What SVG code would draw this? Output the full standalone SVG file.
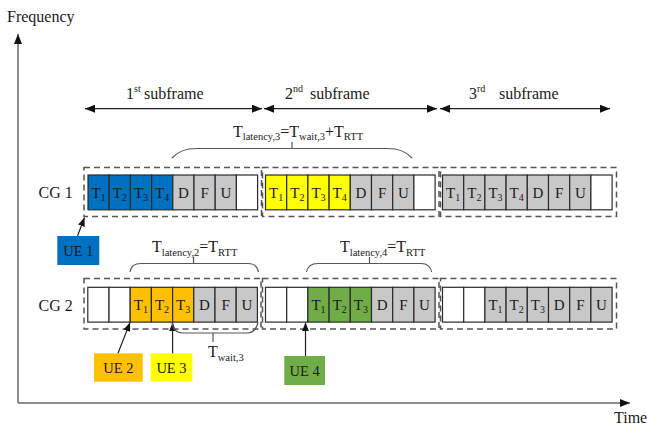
<svg xmlns="http://www.w3.org/2000/svg" width="647" height="428" viewBox="0 0 647 428" font-family="'Liberation Serif', 'Times New Roman', 'DejaVu Serif', serif">
<defs>
<style>
text{font-family:'Liberation Serif','Times New Roman','DejaVu Serif',serif;fill:#1a1a1a}
.lbl{font-size:16px}
.cell{stroke:#2b2b2b;stroke-width:1.2}
.blue{fill:#0070C0}.yel{fill:#FFFF00}.org{fill:#FFC000}.grn{fill:#70AD47}.gry{fill:#C8C8C8}.wht{fill:#FFFFFF}
.ct{font-size:15px;text-anchor:middle}
.sub{font-size:10px}
.sb{font-size:10.5px}
.sup{font-size:10px}
.dash{fill:none;stroke:#555;stroke-width:1.5;stroke-dasharray:6 4}
.brace{fill:none;stroke:#555;stroke-width:1.2}
.axis{fill:none;stroke:#666;stroke-width:1.5}
.ln{fill:none;stroke:#222;stroke-width:1.2}
.ue{font-size:14.5px;text-anchor:middle}
</style>
<marker id="ah" viewBox="0 0 10 8" refX="10" refY="4" markerWidth="10" markerHeight="8" markerUnits="userSpaceOnUse" orient="auto-start-reverse">
<path d="M0,0 L10,4 L0,8 z" fill="#111"/>
</marker>
<marker id="ahs" viewBox="0 0 10 8" refX="10" refY="4" markerWidth="9" markerHeight="7" markerUnits="userSpaceOnUse" orient="auto">
<path d="M0,0 L10,4 L0,8 z" fill="#111"/>
</marker>
</defs>
<rect width="647" height="428" fill="#fff"/>

<g id="axes">
<path class="axis" d="M18,403 L18,34" marker-end="url(#ah)"/>
<path class="axis" d="M18,403 L630,403" marker-end="url(#ah)"/>
<text class="lbl" x="7" y="22">Frequency</text>
<text class="lbl" x="614" y="423">Time</text>
</g>

<g id="subframe-labels">
<path class="ln" d="M85,108.7 L262,108.7" marker-start="url(#ah)" marker-end="url(#ah)"/>
<path class="ln" d="M264,108.7 L437,108.7" marker-start="url(#ah)" marker-end="url(#ah)"/>
<path class="ln" d="M440,108.7 L610,108.7" marker-start="url(#ah)" marker-end="url(#ah)"/>
<text class="lbl" x="126" y="98.5">1<tspan class="sup" dy="-7">st</tspan><tspan x="144" dy="7">subframe</tspan></text>
<text class="lbl" x="285" y="98.5">2<tspan class="sup" dy="-7">nd</tspan><tspan x="310" dy="7">subframe</tspan></text>
<text class="lbl" x="469" y="98.5">3<tspan class="sup" dy="-7">rd</tspan><tspan x="499" dy="7">subframe</tspan></text>
</g>

<g id="cg1-label"><text class="lbl" x="38.5" y="197.5">CG 1</text></g>
<g id="cg2-label"><text class="lbl" x="38.5" y="310.5">CG 2</text></g>

<g id="cg1-sf1">
<rect class="dash" x="84" y="167.5" width="177.5" height="49"/>
<rect class="cell blue" x="88" y="175" width="21.2" height="34.8"/>
<rect class="cell blue" x="109.2" y="175" width="21.2" height="34.8"/>
<rect class="cell blue" x="130.4" y="175" width="21.2" height="34.8"/>
<rect class="cell blue" x="151.6" y="175" width="21.2" height="34.8"/>
<rect class="cell gry" x="172.8" y="175" width="21.2" height="34.8"/>
<rect class="cell gry" x="194" y="175" width="21.2" height="34.8"/>
<rect class="cell gry" x="215.2" y="175" width="21.2" height="34.8"/>
<rect class="cell wht" x="236.4" y="175" width="21.2" height="34.8"/>
<text class="ct" x="98.6" y="197.5">T<tspan class="sub" dy="3">1</tspan></text>
<text class="ct" x="119.8" y="197.5">T<tspan class="sub" dy="3">2</tspan></text>
<text class="ct" x="141" y="197.5">T<tspan class="sub" dy="3">3</tspan></text>
<text class="ct" x="162.2" y="197.5">T<tspan class="sub" dy="3">4</tspan></text>
<text class="ct" x="183.4" y="197.5">D</text>
<text class="ct" x="204.6" y="197.5">F</text>
<text class="ct" x="225.8" y="197.5">U</text>
</g>

<g id="cg1-sf2">
<rect class="dash" x="262.5" y="167.5" width="176.5" height="49"/>
<rect class="cell yel" x="265.5" y="175" width="21.2" height="34.8"/>
<rect class="cell yel" x="286.7" y="175" width="21.2" height="34.8"/>
<rect class="cell yel" x="307.9" y="175" width="21.2" height="34.8"/>
<rect class="cell yel" x="329.1" y="175" width="21.2" height="34.8"/>
<rect class="cell gry" x="350.3" y="175" width="21.2" height="34.8"/>
<rect class="cell gry" x="371.5" y="175" width="21.2" height="34.8"/>
<rect class="cell gry" x="392.7" y="175" width="21.2" height="34.8"/>
<rect class="cell wht" x="413.9" y="175" width="21.2" height="34.8"/>
<text class="ct" x="276.1" y="197.5">T<tspan class="sub" dy="3">1</tspan></text>
<text class="ct" x="297.3" y="197.5">T<tspan class="sub" dy="3">2</tspan></text>
<text class="ct" x="318.5" y="197.5">T<tspan class="sub" dy="3">3</tspan></text>
<text class="ct" x="339.7" y="197.5">T<tspan class="sub" dy="3">4</tspan></text>
<text class="ct" x="360.9" y="197.5">D</text>
<text class="ct" x="382.1" y="197.5">F</text>
<text class="ct" x="403.3" y="197.5">U</text>
</g>

<g id="cg1-sf3">
<rect class="dash" x="440.5" y="167.5" width="176" height="49"/>
<rect class="cell gry" x="442.5" y="175" width="21.2" height="34.8"/>
<rect class="cell gry" x="463.7" y="175" width="21.2" height="34.8"/>
<rect class="cell gry" x="484.9" y="175" width="21.2" height="34.8"/>
<rect class="cell gry" x="506.1" y="175" width="21.2" height="34.8"/>
<rect class="cell gry" x="527.3" y="175" width="21.2" height="34.8"/>
<rect class="cell gry" x="548.5" y="175" width="21.2" height="34.8"/>
<rect class="cell gry" x="569.7" y="175" width="21.2" height="34.8"/>
<rect class="cell wht" x="590.9" y="175" width="21.2" height="34.8"/>
<text class="ct" x="453.1" y="197.5">T<tspan class="sub" dy="3">1</tspan></text>
<text class="ct" x="474.3" y="197.5">T<tspan class="sub" dy="3">2</tspan></text>
<text class="ct" x="495.5" y="197.5">T<tspan class="sub" dy="3">3</tspan></text>
<text class="ct" x="516.7" y="197.5">T<tspan class="sub" dy="3">4</tspan></text>
<text class="ct" x="537.9" y="197.5">D</text>
<text class="ct" x="559.1" y="197.5">F</text>
<text class="ct" x="580.3" y="197.5">U</text>
</g>

<g id="cg2-sf1">
<rect class="dash" x="84" y="278.5" width="177" height="50.5"/>
<rect class="cell wht" x="87.8" y="287.3" width="21.2" height="34.8"/>
<rect class="cell wht" x="109" y="287.3" width="21.2" height="34.8"/>
<rect class="cell org" x="130.2" y="287.3" width="21.2" height="34.8"/>
<rect class="cell org" x="151.4" y="287.3" width="21.2" height="34.8"/>
<rect class="cell org" x="172.6" y="287.3" width="21.2" height="34.8"/>
<rect class="cell gry" x="193.8" y="287.3" width="21.2" height="34.8"/>
<rect class="cell gry" x="215" y="287.3" width="21.2" height="34.8"/>
<rect class="cell gry" x="236.2" y="287.3" width="21.2" height="34.8"/>
<text class="ct" x="140.8" y="310">T<tspan class="sub" dy="3">1</tspan></text>
<text class="ct" x="162" y="310">T<tspan class="sub" dy="3">2</tspan></text>
<text class="ct" x="183.2" y="310">T<tspan class="sub" dy="3">3</tspan></text>
<text class="ct" x="204.4" y="310">D</text>
<text class="ct" x="225.6" y="310">F</text>
<text class="ct" x="246.8" y="310">U</text>
</g>

<g id="cg2-sf2">
<rect class="dash" x="262.5" y="278.5" width="176.5" height="50.5"/>
<rect class="cell wht" x="265.5" y="287.3" width="21.2" height="34.8"/>
<rect class="cell wht" x="286.7" y="287.3" width="21.2" height="34.8"/>
<rect class="cell grn" x="307.9" y="287.3" width="21.2" height="34.8"/>
<rect class="cell grn" x="329.1" y="287.3" width="21.2" height="34.8"/>
<rect class="cell grn" x="350.3" y="287.3" width="21.2" height="34.8"/>
<rect class="cell gry" x="371.5" y="287.3" width="21.2" height="34.8"/>
<rect class="cell gry" x="392.7" y="287.3" width="21.2" height="34.8"/>
<rect class="cell gry" x="413.9" y="287.3" width="21.2" height="34.8"/>
<text class="ct" x="318.5" y="310">T<tspan class="sub" dy="3">1</tspan></text>
<text class="ct" x="339.7" y="310">T<tspan class="sub" dy="3">2</tspan></text>
<text class="ct" x="360.9" y="310">T<tspan class="sub" dy="3">3</tspan></text>
<text class="ct" x="382.1" y="310">D</text>
<text class="ct" x="403.3" y="310">F</text>
<text class="ct" x="424.5" y="310">U</text>
</g>

<g id="cg2-sf3">
<rect class="dash" x="440.5" y="278.5" width="176" height="50.5"/>
<rect class="cell wht" x="442.5" y="287.3" width="21.2" height="34.8"/>
<rect class="cell wht" x="463.7" y="287.3" width="21.2" height="34.8"/>
<rect class="cell gry" x="484.9" y="287.3" width="21.2" height="34.8"/>
<rect class="cell gry" x="506.1" y="287.3" width="21.2" height="34.8"/>
<rect class="cell gry" x="527.3" y="287.3" width="21.2" height="34.8"/>
<rect class="cell gry" x="548.5" y="287.3" width="21.2" height="34.8"/>
<rect class="cell gry" x="569.7" y="287.3" width="21.2" height="34.8"/>
<rect class="cell gry" x="590.9" y="287.3" width="21.2" height="34.8"/>
<text class="ct" x="495.5" y="310">T<tspan class="sub" dy="3">1</tspan></text>
<text class="ct" x="516.7" y="310">T<tspan class="sub" dy="3">2</tspan></text>
<text class="ct" x="537.9" y="310">T<tspan class="sub" dy="3">3</tspan></text>
<text class="ct" x="559.1" y="310">D</text>
<text class="ct" x="580.3" y="310">F</text>
<text class="ct" x="601.5" y="310">U</text>
</g>

<g id="ue1"><rect class="blue" x="57.3" y="236" width="42" height="29"/><text class="ue" x="78.3" y="255.5">UE 1</text></g>
<g id="ue2"><rect class="org" x="94" y="353.3" width="48.7" height="28.4"/><text class="ue" x="118.4" y="372.5">UE 2</text></g>
<g id="ue3"><rect class="yel" x="150.7" y="353.3" width="41.6" height="28.4"/><text class="ue" x="171.5" y="372.5">UE 3</text></g>
<g id="ue4"><rect class="grn" x="284.3" y="356" width="40.7" height="29"/><text class="ue" x="304.7" y="375.5">UE 4</text></g>

<g id="connectors">
<path class="ln" d="M77.5,236 L84.5,217.5" marker-end="url(#ahs)"/>
<path class="ln" d="M118,353.3 L130,322.5" marker-end="url(#ahs)"/>
<path class="ln" d="M172.6,353.3 L172.6,322.5" marker-end="url(#ahs)"/>
<path class="ln" d="M305.5,356 L305.5,322.5" marker-end="url(#ahs)"/>
</g>

<g id="braces">
<path class="brace" d="M172,158 C178,151 186,148.5 197,148.5 L387,148.5 C398,148.5 406,151 412,158 M292,148.5 L292,142"/>
<text class="lbl" x="233" y="136.5">T<tspan class="sb" dy="3.5">latency,3</tspan><tspan dy="-3.5">=T</tspan><tspan class="sb" dy="3.5">wait,3</tspan><tspan dy="-3.5">+T</tspan><tspan class="sb" dy="3.5">RTT</tspan></text>
<path class="brace" d="M130,272 Q131,263.5 141,263.5 L248,263.5 Q257,263.5 258.5,272 M193.5,263.5 L193.5,257"/>
<text class="lbl" x="152" y="252">T<tspan class="sb" dy="3.5">latency,2</tspan><tspan dy="-3.5">=T</tspan><tspan class="sb" dy="3.5">RTT</tspan></text>
<path class="brace" d="M306.5,272 Q308,263.5 318,263.5 L421,263.5 Q430,263.5 431.7,272 M369.5,263.5 L369.5,257"/>
<text class="lbl" x="340" y="252">T<tspan class="sb" dy="3.5">latency,4</tspan><tspan dy="-3.5">=T</tspan><tspan class="sb" dy="3.5">RTT</tspan></text>
<path class="brace" d="M172,322 Q173,333 183,333 L247,333 Q256,333 258,322 M213,333 L213,342"/>
<text class="lbl" x="208" y="357">T<tspan class="sb" dy="3.5">wait,3</tspan></text>
</g>
</svg>
